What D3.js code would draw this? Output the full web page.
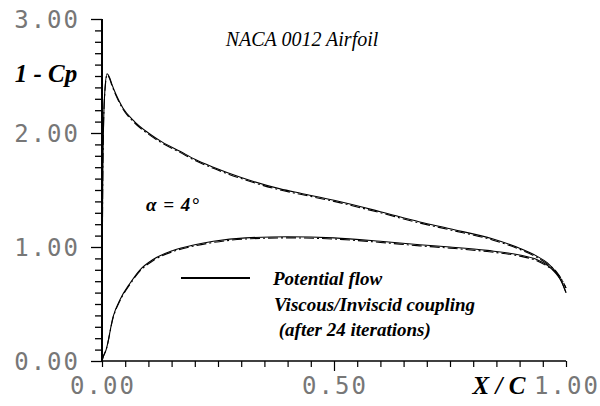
<!DOCTYPE html>
<html><head><meta charset="utf-8">
<script src="https://cdn.jsdelivr.net/npm/d3@7"></script>
<style>
html,body{margin:0;padding:0;background:#fff;}
svg{display:block;}
.tick-label{font-family:"DejaVu Sans Mono",monospace;fill:#777;}
</style></head>
<body>
<svg id="chart" width="600" height="406"></svg>
<script>
// ---- data ----
const yTicksMajor = [0, 1, 2, 3];
const yTickLabels = ["0.00", "1.00", "2.00", "3.00"];
const xTicksMajor = [0, 0.5, 1];
const xTickLabels = ["0.00", "0.50", "1.00"];

// Upper surface, potential flow  [X/C, 1-Cp]
const potUpperX = [0, 0.001, 0.003, 0.006, 0.011, 0.016, 0.022, 0.03, 0.045, 0.07, 0.1, 0.13, 0.168, 0.2, 0.24, 0.3, 0.384, 0.43, 0.5, 0.6, 0.685, 0.75, 0.843, 0.9, 0.937, 0.96, 0.98, 0.99, 1.0];
const potUpperY = [0, 1.2, 2.0, 2.36, 2.52, 2.49, 2.42, 2.34, 2.22, 2.10, 2.00, 1.92, 1.84, 1.77, 1.70, 1.61, 1.51, 1.47, 1.41, 1.31, 1.22, 1.16, 1.07, 0.99, 0.92, 0.86, 0.77, 0.70, 0.60];
// Lower surface, potential flow
const potLowerX = [0, 0.003, 0.009, 0.024, 0.039, 0.06, 0.082, 0.11, 0.153, 0.2, 0.24, 0.31, 0.4, 0.5, 0.6, 0.685, 0.75, 0.83, 0.9, 0.937, 0.96, 0.98, 0.99, 1.0];
const potLowerY = [0, 0.04, 0.10, 0.39, 0.54, 0.68, 0.80, 0.89, 0.97, 1.02, 1.05, 1.08, 1.09, 1.08, 1.05, 1.02, 1.00, 0.97, 0.93, 0.89, 0.84, 0.76, 0.70, 0.60];
// Viscous/Inviscid coupling (after 24 iterations)
const viscUpperX = [0, 0.001, 0.003, 0.006, 0.011, 0.016, 0.022, 0.03, 0.045, 0.07, 0.1, 0.13, 0.168, 0.2, 0.24, 0.3, 0.384, 0.43, 0.5, 0.6, 0.685, 0.75, 0.843, 0.9, 0.937, 0.96, 0.98, 0.99, 1.0];
const viscUpperY = [0, 1.2, 2.0, 2.35, 2.51, 2.48, 2.41, 2.33, 2.21, 2.09, 1.99, 1.91, 1.83, 1.76, 1.69, 1.60, 1.50, 1.46, 1.40, 1.30, 1.21, 1.15, 1.06, 0.98, 0.91, 0.85, 0.78, 0.72, 0.64];
const viscLowerX = [0, 0.003, 0.009, 0.024, 0.039, 0.06, 0.082, 0.11, 0.153, 0.2, 0.24, 0.31, 0.4, 0.5, 0.6, 0.685, 0.75, 0.83, 0.9, 0.937, 0.96, 0.98, 0.99, 1.0];
const viscLowerY = [0, 0.04, 0.10, 0.38, 0.53, 0.67, 0.79, 0.88, 0.96, 1.01, 1.04, 1.07, 1.08, 1.07, 1.04, 1.01, 0.99, 0.96, 0.92, 0.88, 0.83, 0.77, 0.72, 0.64];

const legendLabels = ["Potential flow", "Viscous/Inviscid coupling", " (after 24 iterations)"];

// ---- layout ----
const svg = d3.select("#chart");
const x = d3.scaleLinear().domain([0, 1]).range([102, 566]);
const y = d3.scaleLinear().domain([0, 3]).range([361, 19]);

const zip = (a, b) => a.map((v, i) => [v, b[i]]);
const line = d3.line().x(d => x(d[0])).y(d => y(d[1])).curve(d3.curveMonotoneX);

// minor ticks
const yMinor = d3.range(0, 31).map(i => i / 10);
const xMinor = d3.range(0, 21).map(i => i / 20);

const yAxis = d3.axisLeft(y).tickValues(yMinor).tickSize(7).tickFormat("");
const gy = svg.append("g").attr("transform", `translate(${x(0)},0)`).call(yAxis);
gy.select(".domain").attr("stroke", "#000").attr("stroke-width", 2).attr("d", `M0,${y(3)}V${y(0)}`);
gy.selectAll(".tick line").attr("stroke", "#000").attr("stroke-width", 1.3)
  .attr("x2", d => (Math.abs(d - Math.round(d)) < 1e-9 ? -11 : -7));

const xAxis = d3.axisBottom(x).tickValues(xMinor).tickSize(6).tickFormat("");
const gx = svg.append("g").attr("transform", `translate(0,${y(0)})`).call(xAxis);
gx.select(".domain").attr("stroke", "#000").attr("stroke-width", 1.5).attr("d", `M${x(0)},0H${x(1)}`);
gx.selectAll(".tick line").attr("stroke", "#000").attr("stroke-width", 1.2)
  .attr("y2", d => (Math.abs(d * 2 - Math.round(d * 2)) < 1e-9 && d > 0 && d < 1 ? 10 : 6));

// tick labels
svg.append("g").selectAll("text").data(yTicksMajor).join("text")
  .attr("class", "tick-label")
  .attr("x", 80).attr("y", d => y(d)).attr("dy", "0.36em")
  .attr("text-anchor", "end").attr("font-size", 24).attr("letter-spacing", 2)
  .text((d, i) => yTickLabels[i]);
svg.append("g").selectAll("text").data(xTicksMajor).join("text")
  .attr("class", "tick-label")
  .attr("x", d => x(d) + 1).attr("y", 385).attr("dy", "0.36em")
  .attr("text-anchor", "middle").attr("font-size", 24).attr("letter-spacing", 2)
  .text((d, i) => xTickLabels[i]);

// axis titles
svg.append("text").attr("x", 46).attr("y", 82).attr("text-anchor", "middle")
  .attr("font-family", "Liberation Serif").attr("font-style", "italic").attr("font-weight", "bold")
  .attr("font-size", 25).text("1 - Cp");
svg.append("text").attr("x", 499).attr("y", 394).attr("text-anchor", "middle")
  .attr("font-family", "Liberation Serif").attr("font-style", "italic").attr("font-weight", "bold")
  .attr("font-size", 25).text("X / C");

// title & annotation
svg.append("text").attr("x", 302).attr("y", 46).attr("text-anchor", "middle")
  .attr("font-family", "Liberation Serif").attr("font-style", "italic")
  .attr("font-size", 20).text("NACA 0012 Airfoil");
svg.append("text").attr("x", 146).attr("y", 211)
  .attr("font-family", "Liberation Serif").attr("font-style", "italic").attr("font-weight", "bold")
  .attr("font-size", 19).attr("letter-spacing", 1).text("α = 4°");

// curves
const curves = svg.append("g").attr("fill", "none").attr("stroke", "#000");
curves.append("path").attr("d", line(zip(potUpperX, potUpperY))).attr("stroke-width", 1.1);
curves.append("path").attr("d", line(zip(potLowerX, potLowerY))).attr("stroke-width", 1.1);
curves.append("path").attr("d", line(zip(viscUpperX, viscUpperY))).attr("stroke-width", 1.1).attr("stroke-dasharray", "10,3,2,3");
curves.append("path").attr("d", line(zip(viscLowerX, viscLowerY))).attr("stroke-width", 1.1).attr("stroke-dasharray", "10,3,2,3");

// legend
svg.append("line").attr("x1", 181).attr("x2", 250).attr("y1", 278).attr("y2", 278)
  .attr("stroke", "#000").attr("stroke-width", 1.8);
const lg = svg.append("g").attr("font-family", "Liberation Serif").attr("font-style", "italic")
  .attr("font-weight", "bold").attr("font-size", 19);
lg.selectAll("text").data(legendLabels).join("text")
  .attr("x", (d, i) => [273, 274, 274][i]).attr("y", (d, i) => 285 + i * 25.5)
  .attr("xml:space", "preserve").style("white-space", "pre")
  .text(d => d);
</script>
</body></html>
